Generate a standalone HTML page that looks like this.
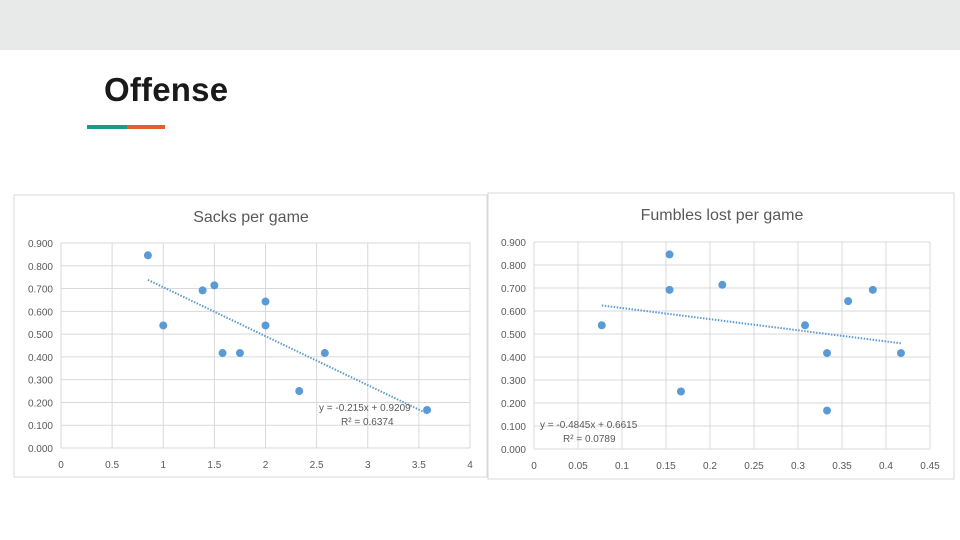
<!DOCTYPE html>
<html><head><meta charset="utf-8"><style>
body{margin:0;width:960px;height:540px;background:#fff;position:relative;overflow:hidden;font-family:"Liberation Sans",sans-serif}
</style></head><body>
<div style="position:absolute;left:0;top:0;width:960px;height:50px;background:#e8eaea"></div>
<div style="position:absolute;left:104px;top:71px;font-size:33px;font-weight:bold;color:#1a1a1a;letter-spacing:0.2px">Offense</div>
<div style="position:absolute;left:87px;top:125px;width:40px;height:4px;background:#1a9a88"></div>
<div style="position:absolute;left:127px;top:125px;width:38px;height:4px;background:#e0622a"></div>
<svg id="svg" width="960" height="540" style="position:absolute;left:0;top:0"></svg>
<script>
const sacksX=[0.85,1,1.385,1.5,1.58,1.75,2,2,2.33,2.58,3.58];
const sacksY=[0.846,0.538,0.692,0.714,0.417,0.417,0.643,0.538,0.25,0.417,0.167];
const sacksXTicks=["0","0.5","1","1.5","2","2.5","3","3.5","4"];
const fumX=[0.077,0.154,0.154,0.167,0.214,0.308,0.333,0.333,0.357,0.385,0.417];
const fumY=[0.538,0.846,0.692,0.25,0.714,0.538,0.417,0.167,0.643,0.692,0.417];
const fumXTicks=["0","0.05","0.1","0.15","0.2","0.25","0.3","0.35","0.4","0.45"];
const yTicks=["0.000","0.100","0.200","0.300","0.400","0.500","0.600","0.700","0.800","0.900"];
const sacksTrend=[-0.215,0.9209];
const fumTrend=[-0.4845,0.6615];
const NS="http://www.w3.org/2000/svg";
const svg=document.getElementById('svg');
function mk(t,a,p){const e=document.createElementNS(NS,t);for(const k in a)e.setAttribute(k,a[k]);(p||svg).appendChild(e);return e;}
function chart(c){
  const g=mk('g',{});
  
  
  mk('rect',{x:c.bx,y:c.by,width:c.bw,height:c.bh,fill:'#fff',stroke:'#d9d9d9'},g);
  const xmax=parseFloat(c.xt[c.xt.length-1]);
  const sx=v=>c.l+(v/xmax)*(c.r-c.l);
  const sy=v=>c.b-(v/0.9)*(c.b-c.t);
  yTicks.forEach(t=>{const v=parseFloat(t);
    mk('line',{x1:c.l,x2:c.r,y1:sy(v),y2:sy(v),stroke:'#d9d9d9'},g);
    const tx=mk('text',{x:c.l-8,y:sy(v)+4,'text-anchor':'end','font-size':10,fill:'#595959'},g);tx.textContent=t;
    
    
  });
  c.xt.forEach(t=>{const v=parseFloat(t);
    mk('line',{x1:sx(v),x2:sx(v),y1:c.t,y2:c.b,stroke:'#d9d9d9'},g);
    const tx=mk('text',{x:sx(v),y:c.b+20,'text-anchor':'middle','font-size':10,fill:'#595959'},g);tx.textContent=t;
    
    
  });
  const ti=mk('text',{x:c.tx,y:c.by+27,'text-anchor':'middle','font-size':16,fill:'#595959'},g);ti.textContent=c.title;
  
  
  const x0=Math.min(...c.xs),x1=Math.max(...c.xs);
  const tl=mk('line',{x1:sx(x0),y1:sy(c.tr[0]*x0+c.tr[1]),x2:sx(x1),y2:sy(c.tr[0]*x1+c.tr[1]),stroke:'#5b9bd5','stroke-width':2,'stroke-dasharray':'1.5 1.5'},g);
  
  
  c.xs.forEach((x,i)=>{const d=mk('circle',{cx:sx(x),cy:sy(c.ys[i]),r:4,fill:'#5b9bd5'},g);
    
    
  });
  c.eq.forEach((s,i)=>{const e=mk('text',{x:c.ex[i],y:c.ey+i*14,'font-size':10,fill:'#595959'},g);e.textContent=s;
    
    
  });
}
chart({name:'sacks-chart',bx:14,by:195,bw:473,bh:282,l:61,r:470,t:243,b:448,tx:251,title:'Sacks per game',xs:sacksX,ys:sacksY,xt:sacksXTicks,tr:sacksTrend,eq:['y = -0.215x + 0.9209','R² = 0.6374'],ex:[319,341],ey:411});
chart({name:'fumbles-chart',bx:488,by:193,bw:466,bh:286,l:534,r:930,t:242,b:449,tx:722,title:'Fumbles lost per game',xs:fumX,ys:fumY,xt:fumXTicks,tr:fumTrend,eq:['y = -0.4845x + 0.6615','R² = 0.0789'],ex:[540,563],ey:428});
</script>
</body></html>
